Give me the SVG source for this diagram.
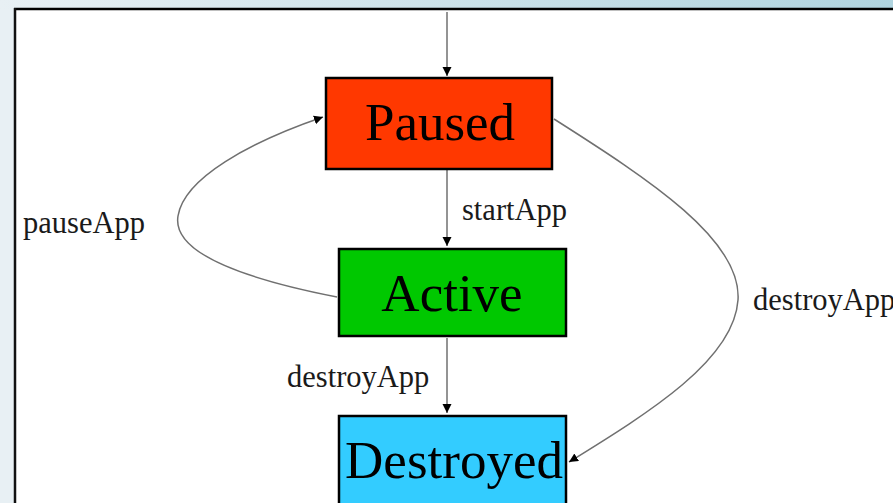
<svg xmlns="http://www.w3.org/2000/svg" width="893" height="503" viewBox="0 0 893 503">
  <defs>
    <linearGradient id="band" x1="0" y1="0" x2="1" y2="0">
      <stop offset="0" stop-color="#e8f0f4"/>
      <stop offset="1" stop-color="#b0d4df"/>
    </linearGradient>
    <marker id="head" markerUnits="userSpaceOnUse" markerWidth="10" markerHeight="10" refX="9" refY="4.5" orient="auto">
      <path d="M0,0 L9,4.5 L0,9 Z" fill="#000"/>
    </marker>
  </defs>
  <style>
    .state { stroke: #000; stroke-width: 2.5; }
    .state-label { font-family: "Liberation Serif", "Times New Roman", serif; font-size: 53px; fill: #000; text-anchor: middle; }
    .edge { fill: none; stroke: #707070; stroke-width: 1.5; marker-end: url(#head); }
    .edge-label { font-family: "Liberation Serif", "Times New Roman", serif; font-size: 30.5px; fill: #1a1a1a; }
  </style>

  <!-- page frame -->
  <rect x="0" y="0" width="893" height="503" fill="#e8f0f4"/>
  <rect x="0" y="0" width="893" height="9" fill="url(#band)"/>
  <rect x="15" y="9" width="878" height="494" fill="#fff"/>
  <line x1="14" y1="9" x2="893" y2="9" stroke="#000" stroke-width="2.5"/>
  <line x1="15" y1="8" x2="15" y2="503" stroke="#111" stroke-width="2.5"/>

  <g id="connectors">
    <path class="edge" d="M447,12 L447,76"/>
    <path class="edge" d="M447,170 L447,246"/>
    <path class="edge" d="M447,338 L447,413"/>
    <path class="edge" d="M337,297 C240,278 172,252 178,216 C184,178 250,142 323,117"/>
    <path class="edge" d="M554,119 C650,180 742,240 738,300 C734,360 650,412 569,462"/>
    <text class="edge-label" x="462" y="220">startApp</text>
    <text class="edge-label" x="23" y="233">pauseApp</text>
    <text class="edge-label" x="287" y="387">destroyApp</text>
    <text class="edge-label" x="753" y="310">destroyApp</text>
  </g>

  <g id="paused">
    <rect class="state" x="326" y="78" width="226" height="91" fill="#ff3800"/>
    <text class="state-label" x="440" y="140">Paused</text>
  </g>
  <g id="active">
    <rect class="state" x="339" y="249" width="227" height="87" fill="#00c800"/>
    <text class="state-label" x="452" y="311">Active</text>
  </g>
  <g id="destroyed">
    <rect class="state" x="339" y="416" width="227" height="100" fill="#33ccff"/>
    <text class="state-label" x="454" y="478">Destroyed</text>
  </g>
</svg>
